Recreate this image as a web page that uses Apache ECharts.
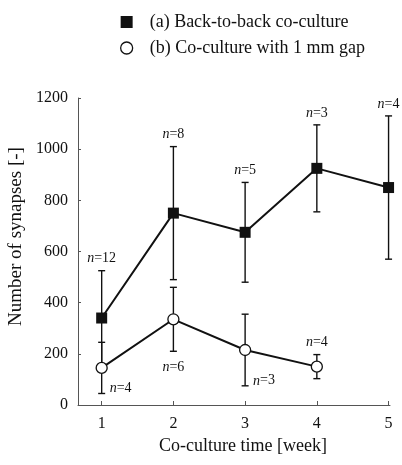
<!DOCTYPE html>
<html>
<head>
<meta charset="utf-8">
<script src="https://cdn.jsdelivr.net/npm/echarts@6/dist/echarts.min.js"></script>
<style>
  html, body { margin: 0; padding: 0; background: #fff; }
  #chart { width: 402px; height: 465px; }
</style>
</head>
<body>
<div id="chart"></div>
<script>
'use strict';

// 培养时间 (week)
var weeksA = [1, 2, 3, 4, 5];
var weeksB = [1, 2, 3, 4];
// (a) back-to-back
var meanA = [340, 750, 675, 925, 850];
var sdA = [185, 260, 195, 170, 280];
var nA = [12, 8, 5, 3, 4];
// (b) 1 mm gap
var meanB = [145, 335, 215, 150];
var sdB = [100, 125, 140, 47];
var nB = [4, 6, 3, 4];

var yTicks = [0, 200, 400, 600, 800, 1000, 1200];
var xTicks = [1, 2, 3, 4, 5];

var nameA = '(a) Back-to-back co-culture';
var nameB = '(b) Co-culture with 1 mm gap';

var FONT = '"Liberation Serif", "Times New Roman", serif';
var INK = '#111';

function pairs(xs, ys) {
    return xs.map(function (x, i) { return [x, ys[i]]; });
}

function errData(xs, m, sd, n) {
    return xs.map(function (x, i) { return [x, m[i], m[i] - sd[i], m[i] + sd[i], n[i]]; });
}

// where to put the n= text for each point
var placeA = ['above', 'above', 'above', 'above', 'above'];
var placeB = ['right', 'below', 'right', 'above'];

function makeErrRender(place) {
    return function (params, api) {
        var x = api.value(0);
        var lo = api.coord([x, api.value(2)]);
        var hi = api.coord([x, api.value(3)]);
        var pt = api.coord([x, api.value(1)]);
        var cap = 3.5;
        var st = { stroke: INK, lineWidth: 1.4 };
        var where = place[params.dataIndex];
        var lbl = { text: '{i|n}=' + api.value(4), font: '14px ' + FONT, fill: INK,
            rich: { i: { fontStyle: 'italic', fontFamily: FONT, fontSize: 14, fill: INK } },
            verticalAlign: 'middle' };
        var lx, ly;
        if (where === 'above') { lx = hi[0]; ly = hi[1] - 12; lbl.align = 'center'; }
        else if (where === 'below') { lx = lo[0]; ly = lo[1] + 16; lbl.align = 'center'; }
        else { lx = pt[0] + 8; ly = lo[1] - 5; lbl.align = 'left'; }
        lbl.x = lx; lbl.y = ly;
        return {
            type: 'group',
            children: [
                { type: 'line', shape: { x1: lo[0], y1: lo[1], x2: hi[0], y2: hi[1] }, style: st },
                { type: 'line', shape: { x1: lo[0] - cap, y1: lo[1], x2: lo[0] + cap, y2: lo[1] }, style: st },
                { type: 'line', shape: { x1: hi[0] - cap, y1: hi[1], x2: hi[0] + cap, y2: hi[1] }, style: st },
                { type: 'text', style: lbl }
            ]
        };
    };
}

var chart = echarts.init(document.getElementById('chart'));

chart.setOption({
    animation: false,
    backgroundColor: '#fff',
    textStyle: { fontFamily: FONT, color: INK },
    legend: {
        orient: 'vertical',
        left: 115,
        top: 7,
        itemGap: 6,
        itemWidth: 12,
        itemHeight: 12,
        textStyle: { fontFamily: FONT, fontSize: 18, color: INK, lineHeight: 20, padding: [0, 0, 0, 12] },
        data: [
            { name: nameA, icon: 'rect' },
            { name: nameB, icon: 'circle', itemStyle: { color: '#fff', borderColor: INK, borderWidth: 1.3 } }
        ]
    },
    grid: {
        left: 78,
        right: 12,
        top: 98,
        bottom: 60,
        outerBoundsMode: 'none'
    },
    xAxis: {
        type: 'value',
        min: 0.67,
        max: 5.02,
        name: 'Co-culture time [week]',
        nameLocation: 'middle',
        nameGap: 32,
        nameTextStyle: { fontFamily: FONT, fontSize: 18, color: INK, padding: [0, 0, 0, 18] },
        axisLine: { lineStyle: { color: '#555', width: 1 } },
        axisTick: { inside: true, length: 4, customValues: xTicks, lineStyle: { color: '#555' } },
        axisLabel: { customValues: xTicks, fontFamily: FONT, fontSize: 16, color: INK, margin: 11 },
        splitLine: { show: false }
    },
    yAxis: {
        type: 'value',
        min: 0,
        max: 1200,
        interval: 200,
        name: 'Number of synapses [-]',
        nameLocation: 'middle',
        nameGap: 44,
        nameTextStyle: { fontFamily: FONT, fontSize: 19, color: INK, padding: [0, 0, 0, 30] },
        axisLine: { show: true, lineStyle: { color: '#555', width: 1 } },
        axisTick: { show: true, inside: true, length: 3, lineStyle: { color: '#555' } },
        axisLabel: { fontFamily: FONT, fontSize: 16, color: INK, margin: 10,
            formatter: function (v) { return yTicks.indexOf(v) >= 0 ? String(v) : ''; } },
        splitLine: { show: false }
    },
    series: [
        {
            type: 'custom',
            name: 'errA',
            renderItem: makeErrRender(placeA),
            data: errData(weeksA, meanA, sdA, nA),
            encode: { x: 0, y: [1, 2, 3] },
            z: 1
        },
        {
            type: 'custom',
            name: 'errB',
            renderItem: makeErrRender(placeB),
            data: errData(weeksB, meanB, sdB, nB),
            encode: { x: 0, y: [1, 2, 3] },
            z: 1
        },
        {
            type: 'line',
            name: nameA,
            data: pairs(weeksA, meanA),
            symbol: 'rect',
            symbolSize: 11,
            itemStyle: { color: INK },
            lineStyle: { color: INK, width: 2 },
            z: 3
        },
        {
            type: 'line',
            name: nameB,
            data: pairs(weeksB, meanB),
            symbol: 'circle',
            symbolSize: 11,
            itemStyle: { color: '#fff', borderColor: INK, borderWidth: 1.3 },
            lineStyle: { color: INK, width: 2 },
            z: 4
        }
    ]
});
</script>
</body>
</html>
